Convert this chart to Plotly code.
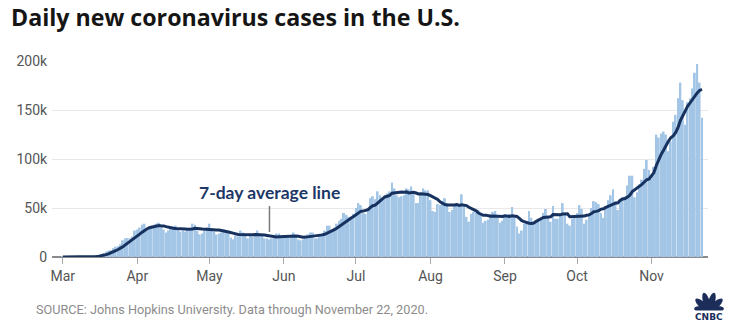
import math
import pandas as pd
import plotly.graph_objects as go

# ---------------- data (daily new cases, thousands) ----------------
START_DATE = "2020-03-01"

cases_mar = [0.01, 0.02, 0.02, 0.03, 0.07, 0.06, 0.1, 0.12, 0.17, 0.29, 0.4, 0.55, 0.7, 0.95, 1.2,
             1.8, 2.5, 4.0, 5.5, 6.3, 7.0, 9.0, 10.5, 11.0, 13.0, 17.0, 19.0, 19.5, 19.0, 21.0, 27.0]
cases_apr = [28, 30, 33, 34, 27, 30, 32, 33, 34, 35, 30, 28, 25, 27, 30,
             31, 32, 28, 26, 27, 26, 29, 30, 34, 33, 27, 23, 24, 27, 30]
cases_may = [34, 29, 26, 23, 24, 25, 28, 27, 25, 20, 18, 22, 21, 27, 25, 24,
             19, 22, 21, 22, 27, 24, 22, 19, 19, 18, 19, 22, 24, 24, 20]
cases_jun = [22, 20, 20, 21, 25, 22, 18, 17, 18, 21, 23, 25, 25, 19, 19,
             23, 24, 27, 32, 32, 27, 30, 34, 37, 39, 45, 43, 41, 40, 44]
cases_jul = [50, 55, 53, 45, 44, 47, 60, 62, 59, 67, 63, 58, 60, 65, 67, 76,
             70, 63, 61, 62, 63, 70, 69, 72, 66, 55, 55, 64, 70, 68, 68]
cases_aug = [58, 47, 46, 54, 53, 57, 60, 55, 46, 48, 53, 55, 52, 64, 54, 41,
             36, 44, 46, 45, 48, 44, 35, 37, 38, 44, 46, 47, 43, 35, 37]
cases_sep = [43, 41, 44, 51, 42, 31, 24, 27, 34, 36, 47, 40, 35, 36, 39,
             40, 45, 49, 42, 36, 52, 39, 39, 44, 55, 45, 34, 32, 39, 40]
cases_oct = [45, 53, 49, 34, 38, 42, 50, 57, 56, 54, 45, 40, 52, 58, 63, 69,
             57, 48, 58, 61, 62, 73, 83, 83, 61, 66, 74, 79, 90, 99, 89]
cases_nov = [80, 92, 125, 122, 126, 128, 125, 108, 118, 138, 145,
             162, 178, 160, 135, 158, 162, 172, 188, 197, 178, 142]

# 7-day average line (thousands)
avg_mar = [0.01, 0.015, 0.017, 0.02, 0.03, 0.035, 0.044, 0.06, 0.08, 0.12, 0.17, 0.24, 0.33, 0.45, 0.61,
           0.84, 1.16, 1.67, 2.38, 3.18, 4.04, 5.16, 6.4, 7.61, 8.9, 10.54, 12.36, 14.14, 15.57, 17.07, 19.36]
avg_apr = [21.5, 23.36, 25.36, 27.43, 28.57, 29.86, 30.57, 31.29, 31.86, 32.14, 31.57, 31.71, 31.0, 30.29, 29.86,
           29.43, 29.0, 28.71, 28.43, 28.71, 28.57, 28.43, 28.29, 28.57, 29.29, 29.43, 28.86, 28.57, 28.29, 28.29]
avg_may = [28.29, 27.71, 27.57, 27.57, 27.57, 27.29, 27.0, 26.0, 25.43, 24.57, 23.86, 23.57, 23.0, 22.86, 22.57, 22.43,
           22.29, 22.86, 22.71, 22.86, 22.86, 22.71, 22.43, 22.43, 22.0, 21.57, 21.14, 20.43, 20.43, 20.71, 20.86]
avg_jun = [21.29, 21.57, 21.71, 21.57, 21.71, 21.43, 21.14, 20.43, 20.14, 20.29, 20.57, 20.57, 21.0, 21.14, 21.43,
           22.14, 22.57, 23.14, 24.14, 25.14, 26.29, 27.86, 29.43, 31.29, 33.0, 34.86, 36.43, 38.43, 39.86, 41.29]
avg_jul = [43.14, 45.43, 46.57, 46.86, 47.29, 48.29, 50.57, 52.29, 52.86, 54.86, 57.43, 59.43, 61.29, 62.0, 62.71, 65.14,
           65.57, 65.57, 66.0, 66.29, 66.0, 66.43, 65.43, 65.71, 66.14, 65.29, 64.29, 64.43, 64.43, 64.29, 63.71]
avg_aug = [62.57, 61.43, 60.14, 58.71, 56.29, 54.71, 53.57, 53.14, 53.0, 53.29, 53.14, 53.43, 52.71, 53.29, 53.14, 52.43,
           50.71, 49.43, 48.14, 47.14, 44.86, 43.43, 42.57, 42.71, 41.86, 41.57, 41.71, 41.57, 41.43, 41.43, 41.43]
avg_sep = [42.14, 41.71, 41.43, 42.0, 41.86, 41.29, 39.43, 37.14, 36.14, 35.0, 34.43, 34.14, 34.71, 36.43, 38.14,
           39.0, 40.29, 40.57, 40.86, 41.0, 43.29, 43.29, 43.14, 43.0, 43.86, 44.29, 44.0, 41.14, 41.14, 41.29]
avg_oct = [41.43, 41.14, 41.71, 41.71, 42.57, 43.0, 44.43, 46.14, 46.57, 47.29, 48.86, 49.14, 50.57, 51.71, 52.57, 54.43,
           54.86, 55.29, 57.86, 59.14, 59.71, 61.14, 63.14, 66.86, 68.71, 69.86, 71.71, 74.14, 76.57, 78.86, 79.71]
avg_nov = [82.43, 86.14, 93.43, 99.57, 104.71, 108.86, 114.0, 118.0, 121.71, 123.57, 126.86,
           132.0, 139.14, 144.14, 148.0, 153.71, 157.14, 161.0, 164.71, 167.43, 170.0, 171.0]

month_tick_dates = ["2020-03-01", "2020-04-01", "2020-05-01", "2020-06-01", "2020-07-01",
                    "2020-08-01", "2020-09-01", "2020-10-01", "2020-11-01"]
month_tick_labels = ["Mar", "Apr", "May", "Jun", "Jul", "Aug", "Sep", "Oct", "Nov"]
y_tick_values = [0, 50, 100, 150, 200]
y_tick_labels = ["0", "50k", "100k", "150k", "200k"]

daily_cases = cases_mar + cases_apr + cases_may + cases_jun + cases_jul + cases_aug + cases_sep + cases_oct + cases_nov
avg_cases = avg_mar + avg_apr + avg_may + avg_jun + avg_jul + avg_aug + avg_sep + avg_oct + avg_nov
dates = pd.date_range(START_DATE, periods=len(daily_cases), freq="D")

# ---------------- figure ----------------
W, H = 734, 334
PL, PR, PT, PB = 52, 26, 61, 77          # plot area pixels
PW, PH = W - PL - PR, H - PT - PB


def px2paper(px, py):
    return (px - PL) / PW, (H - PB - py) / PH


fig = go.Figure()
fig.add_trace(go.Bar(x=dates, y=daily_cases, marker=dict(color="#a3c5e6", line_width=0),
                     hoverinfo="skip"))
fig.add_trace(go.Scatter(x=dates, y=avg_cases, mode="lines",
                         line=dict(color="#17325f", width=3), hoverinfo="skip"))

fig.update_layout(
    width=W, height=H,
    margin=dict(l=PL, r=PR, t=PT, b=PB, pad=0),
    paper_bgcolor="white", plot_bgcolor="white",
    showlegend=False, bargap=0.2,
    title=dict(text="<b>Daily new coronavirus cases in the U.S.</b>",
               font=dict(family="Open Sans", size=23.2, color="#151515"),
               x=11 / W, xanchor="left", xref="container",
               y=1 - 17.5 / H, yanchor="middle", yref="container"),
)
fig.update_xaxes(
    type="date", range=["2020-02-25 12:00", "2020-11-24 12:00"],
    tickvals=month_tick_dates, ticktext=month_tick_labels,
    ticks="outside", ticklen=6, tickwidth=1, tickcolor="#aaaaaa",
    showgrid=False, showline=False, zeroline=False,
    tickfont=dict(family="Roboto", size=14, color="#555555"),
)
fig.update_yaxes(
    range=[0, 200], tickvals=y_tick_values, ticktext=y_tick_labels,
    showgrid=True, gridcolor="#e8e8e8", gridwidth=1,
    zeroline=True, zerolinecolor="#8a8a8a", zerolinewidth=1.5,
    ticks="outside", ticklen=1, tickcolor="rgba(0,0,0,0)",
    tickfont=dict(family="Roboto", size=14, color="#555555"),
)

# annotation: 7-day average line
fig.add_shape(type="line", xref="x", yref="y", x0="2020-05-26", x1="2020-05-26", y0=25.5, y1=52,
              line=dict(color="#7a7a7a", width=1.5))
fig.add_annotation(x="2020-05-26", y=65.5, xref="x", yref="y", showarrow=False,
                   text="<b>7-day average line</b>",
                   font=dict(family="Lato", size=17.5, color="#1d3767"),
                   xanchor="center", yanchor="middle")

# source
sx, sy = px2paper(34, 309.5)
fig.add_annotation(x=sx, y=sy, xref="paper", yref="paper", showarrow=False,
                   text="SOURCE: Johns Hopkins University. Data through November 22, 2020.",
                   font=dict(family="Roboto", size=12.7, color="#8c8c8c"),
                   xanchor="left", yanchor="middle")

# CNBC peacock logo (decoration)
base_x, base_y = 709, 311
for ang, length in [(170, 15), (138, 18), (106, 19), (74, 19), (42, 18), (10, 15)]:
    th = math.radians(ang)
    dx, dy = math.cos(th), -math.sin(th)
    px_, py_ = -dy, dx
    cx, cy = base_x + dx * length / 2, base_y + dy * length / 2
    pts = []
    for k in range(20):
        ph = 2 * math.pi * k / 20
        a, b = length / 2, 3.3
        X = cx + a * math.cos(ph) * dx + b * math.sin(ph) * px_
        Y = cy + a * math.cos(ph) * dy + b * math.sin(ph) * py_
        pts.append(px2paper(X, Y))
    path = "M " + " L ".join(f"{p[0]:.5f},{p[1]:.5f}" for p in pts) + " Z"
    fig.add_shape(type="path", xref="paper", yref="paper", path=path,
                  fillcolor="#1c2d5a", line=dict(width=0))
lx, ly = px2paper(709, 316.5)
fig.add_annotation(x=lx, y=ly, xref="paper", yref="paper", showarrow=False,
                   text="<b>CNBC</b>", font=dict(family="DejaVu Sans", size=9, color="#1c2d5a"),
                   xanchor="center", yanchor="middle", bgcolor="white")

fig.write_html("out.html")
